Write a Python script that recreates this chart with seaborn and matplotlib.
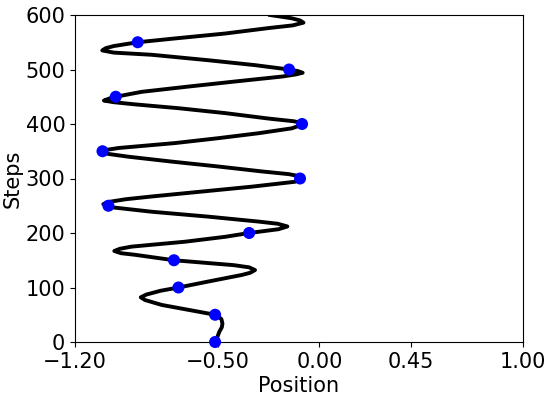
import matplotlib
matplotlib.use("Agg")
import matplotlib.pyplot as plt
import seaborn as sns
import pandas as pd

# Trajectory (step, position)
steps = [0, 10, 19, 27, 34, 42, 46, 50, 59, 68, 77, 82, 87, 94, 100, 111, 123, 127, 132,
         137, 141, 150, 160, 163, 167, 171, 175, 184, 193, 200, 207, 212, 217, 221, 230,
         239, 247, 250, 253, 257, 262, 267, 276, 285, 294, 300, 303, 308, 313, 322, 331,
         340, 345, 349, 352, 356, 365, 374, 383, 392, 398, 401, 405, 410, 420, 429, 436,
         440, 443, 447, 450, 459, 468, 478, 487, 491, 494, 497, 500, 508, 517, 527, 531,
         535, 539, 543, 550, 557, 566, 576, 581, 586, 590, 594, 600]
positions = [-0.510, -0.500, -0.491, -0.479, -0.476, -0.481, -0.494, -0.512, -0.643, -0.774,
             -0.856, -0.877, -0.850, -0.780, -0.692, -0.545, -0.381, -0.340, -0.316,
             -0.345, -0.420, -0.714, -0.905, -0.975, -1.007, -0.980, -0.922, -0.660, -0.463,
             -0.345, -0.200, -0.157, -0.205, -0.300, -0.545, -0.823, -1.015, -1.040, -1.061,
             -1.035, -0.950, -0.823, -0.578, -0.332, -0.120, -0.090, -0.082, -0.150, -0.283,
             -0.496, -0.725, -0.938, -1.035, -1.075, -1.055, -0.985, -0.709, -0.496, -0.300,
             -0.136, -0.090, -0.078, -0.125, -0.250, -0.463, -0.692, -0.905, -1.010, -1.058,
             -1.030, -1.000, -0.873, -0.660, -0.414, -0.185, -0.115, -0.082, -0.105, -0.149,
             -0.316, -0.545, -0.823, -1.010, -1.066, -1.050, -1.010, -0.892, -0.709, -0.463,
             -0.250, -0.130, -0.078, -0.095, -0.136, -0.242]

# Marked points every 50 steps
dot_steps = [0, 50, 100, 150, 200, 250, 300, 350, 400, 450, 500, 550]
dot_positions = [-0.512, -0.512, -0.692, -0.714, -0.345, -1.036, -0.095, -1.065, -0.085,
                 -1.000, -0.149, -0.892]

x_ticks = [-1.20, -0.50, 0.00, 0.45, 1.00]
y_ticks = [0, 100, 200, 300, 400, 500, 600]

traj = pd.DataFrame({"Position": positions, "Steps": steps})
dots = pd.DataFrame({"Position": dot_positions, "Steps": dot_steps})

fig = plt.figure(figsize=(5.53, 3.99), dpi=100)
ax = fig.add_axes([75 / 553, 1 - 342 / 399, 448 / 553, 327 / 399])

sns.lineplot(data=traj, x="Position", y="Steps", sort=False, estimator=None,
             orient="y", color="black", linewidth=2.8, ax=ax, zorder=2)
sns.scatterplot(data=dots, x="Position", y="Steps", color="blue", s=75,
                edgecolor="none", ax=ax, zorder=3, clip_on=False)

ax.set_xlim(-1.2, 1.0)
ax.set_ylim(0, 600)
ax.set_xticks(x_ticks)
ax.set_xticklabels([f"{t:.2f}".replace("-", "\u2212") for t in x_ticks])
ax.set_yticks(y_ticks)
ax.tick_params(labelsize=15)
ax.set_xlabel("Position", fontsize=15, labelpad=3)
ax.set_ylabel("Steps", fontsize=15, labelpad=2)

fig.savefig("out.png", dpi=100)
